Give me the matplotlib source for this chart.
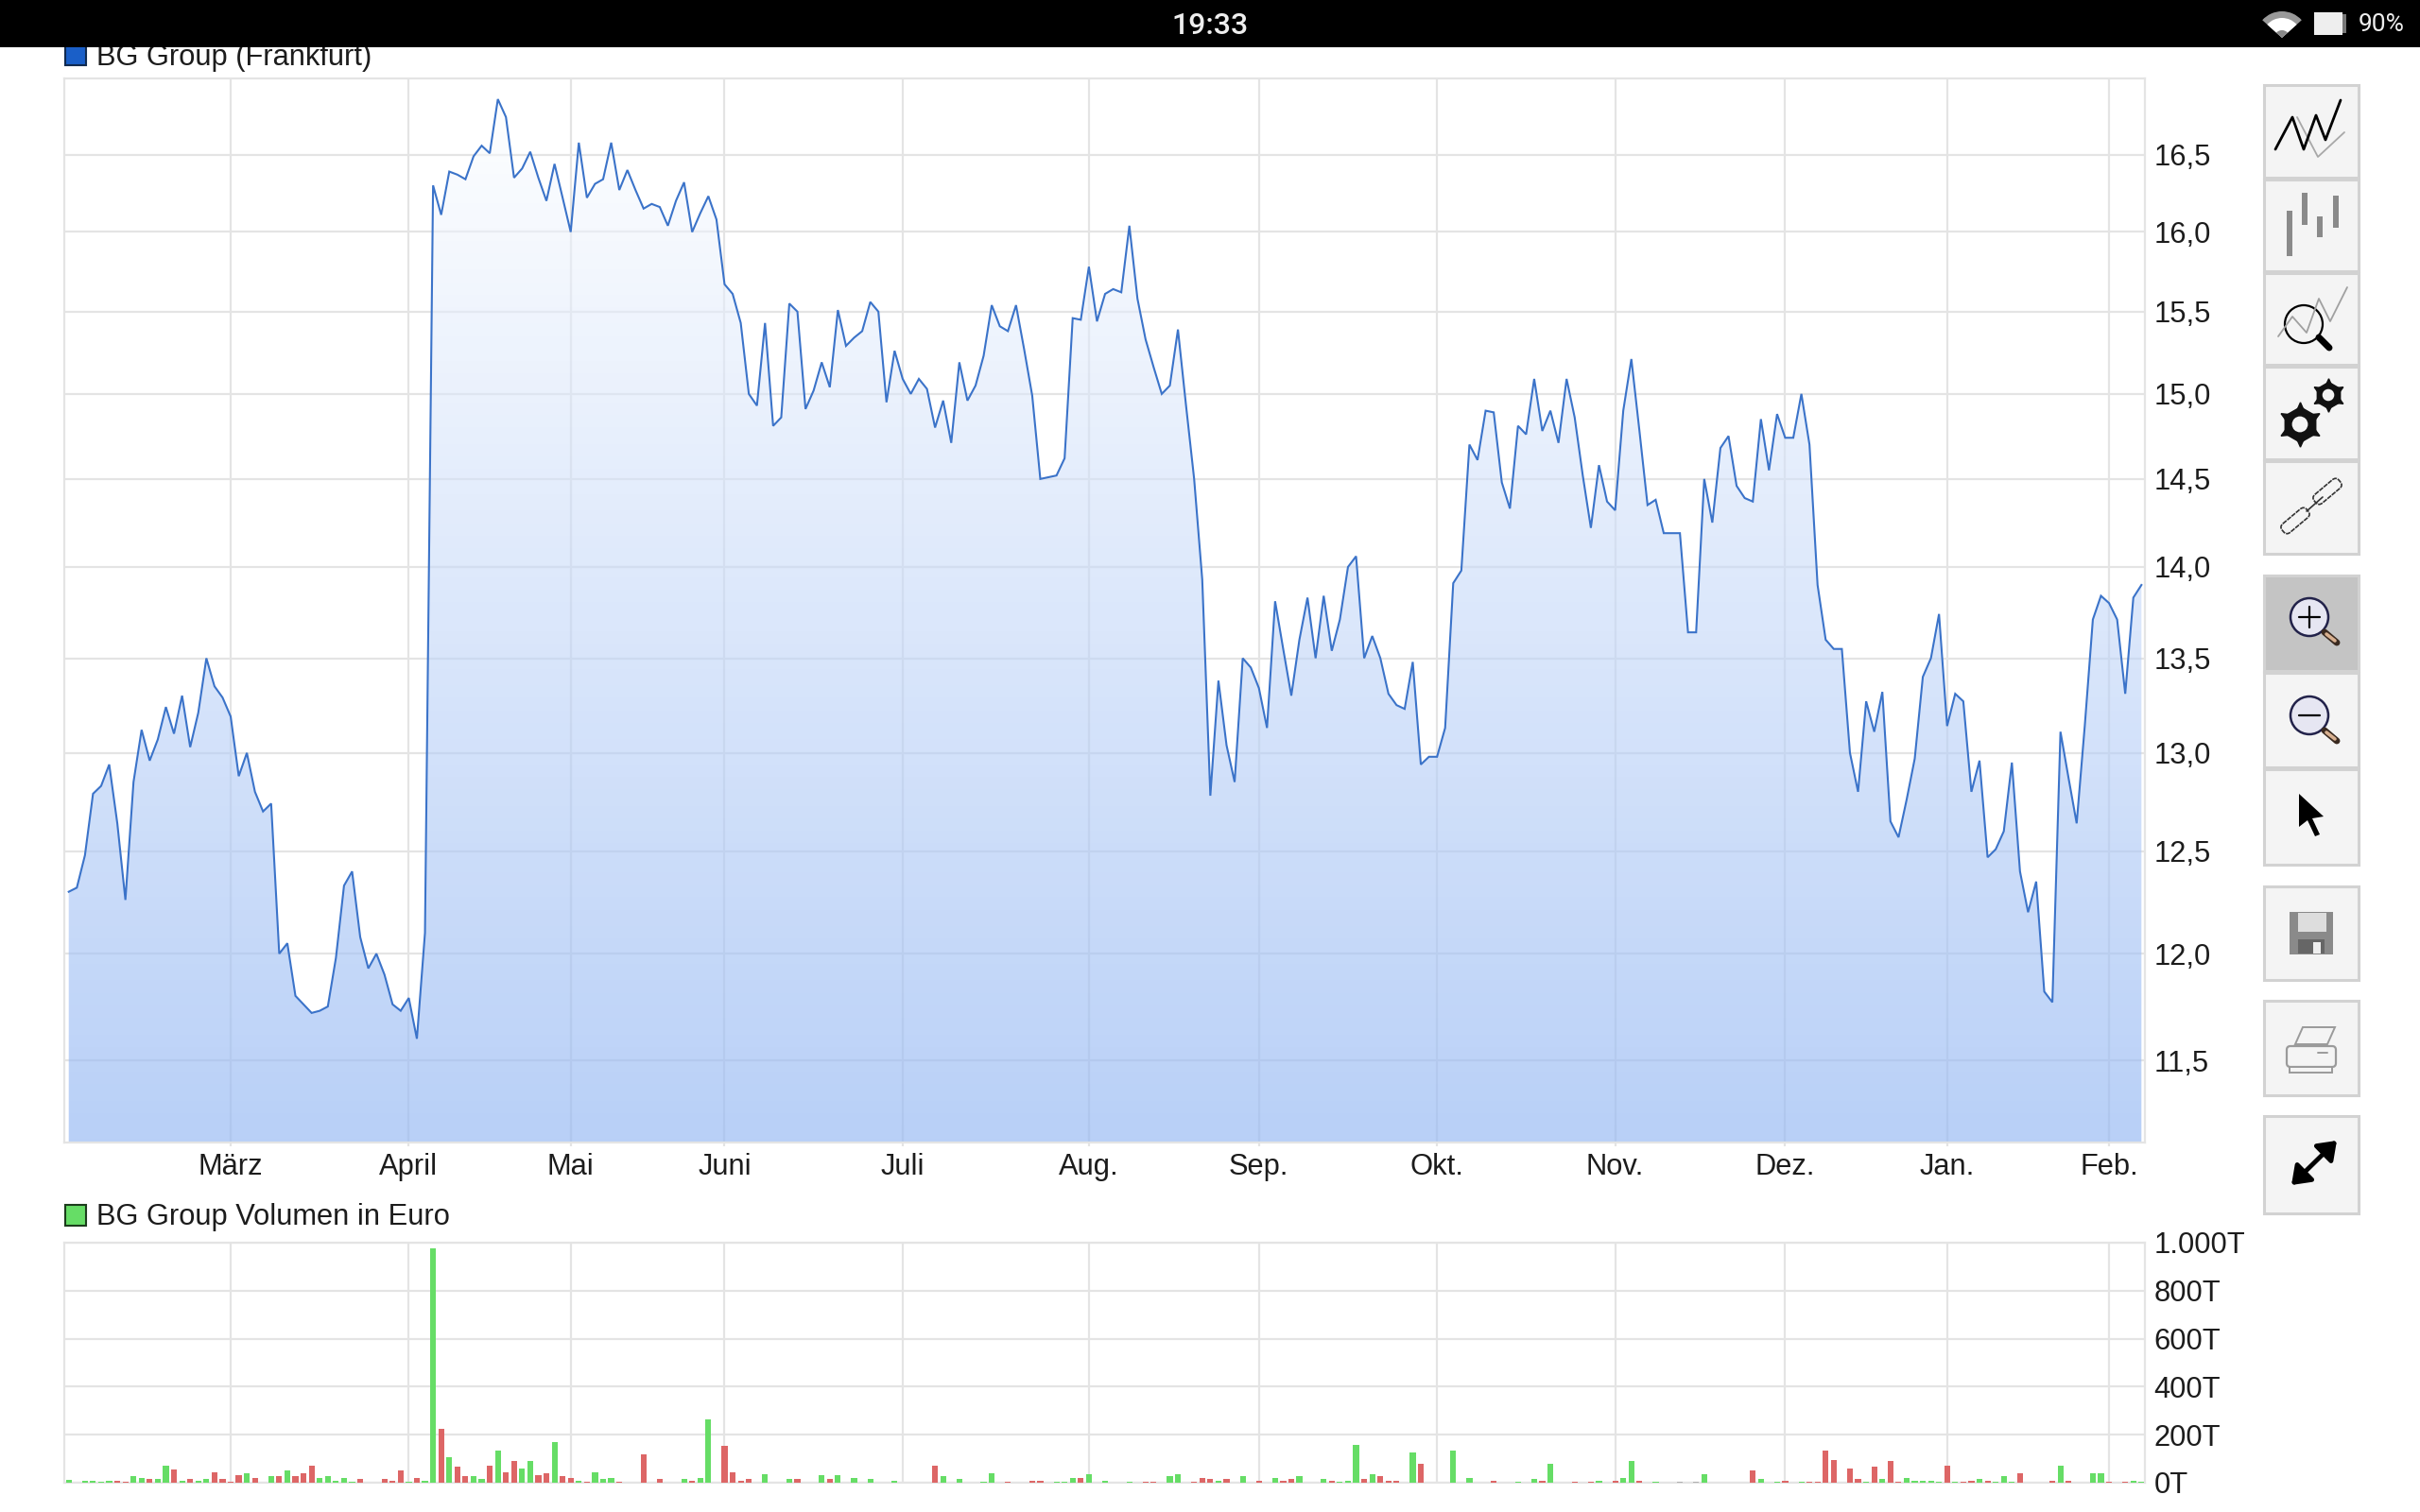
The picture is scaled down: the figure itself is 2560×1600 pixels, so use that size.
import numpy as np
import matplotlib
matplotlib.use('Agg')
import matplotlib.pyplot as plt
from matplotlib.patches import Polygon, Rectangle, Circle, Wedge, FancyBboxPatch
from matplotlib.ticker import NullLocator

plt.rcParams['font.family'] = ['Liberation Sans', 'DejaVu Sans']

# closing prices, one per trading day
price = [12.30, 12.32, 12.48, 12.79, 12.83, 12.94, 12.64, 12.26, 12.85, 13.12,
         12.96, 13.07, 13.24, 13.10, 13.30, 13.03, 13.21, 13.50, 13.35, 13.29,
         13.19, 12.88, 13.00, 12.80, 12.70, 12.74, 12.00, 12.05, 11.80, 11.76,
         11.72, 11.73, 11.75, 11.98, 12.33, 12.40, 12.08, 11.93, 12.00, 11.90,
         11.76, 11.73, 11.79, 11.60, 12.10,
         16.30, 16.11, 16.39, 16.37, 16.34, 16.49, 16.56, 16.51, 16.87, 16.75,
         16.35, 16.41, 16.52, 16.35, 16.20, 16.44, 16.22, 16.00, 16.58, 16.22,
         16.31, 16.34, 16.58, 16.27, 16.40, 16.27, 16.15, 16.18, 16.16, 16.04,
         16.20, 16.32, 16.00, 16.12, 16.23, 16.08, 15.67, 15.61, 15.43, 15.00,
         14.93, 15.43,
         14.81, 14.86, 15.55, 15.50, 14.91, 15.02, 15.19, 15.04, 15.51, 15.29,
         15.34, 15.38, 15.56, 15.50, 14.95, 15.26, 15.09, 15.00, 15.09, 15.03,
         14.80, 14.96, 14.71, 15.19, 14.96, 15.05, 15.23, 15.54, 15.41, 15.38,
         15.54, 15.27, 14.99, 14.50, 14.51, 14.52, 14.62, 15.46, 15.45, 15.78,
         15.44, 15.61, 15.64, 15.62,
         16.04, 15.58, 15.33, 15.16, 15.00, 15.05, 15.39, 14.93, 14.50, 13.93,
         12.78, 13.38, 13.04, 12.85, 13.50, 13.45, 13.34, 13.13, 13.81, 13.55,
         13.30, 13.60, 13.83, 13.50, 13.84, 13.54, 13.71, 14.00, 14.06, 13.50,
         13.62, 13.50, 13.31, 13.25, 13.23, 13.48, 12.94, 12.98, 12.98, 13.13,
         13.91, 13.98,
         14.70, 14.61, 14.90, 14.89, 14.48, 14.33, 14.81, 14.76, 15.09, 14.78,
         14.90, 14.71, 15.09, 14.86, 14.52, 14.22, 14.58, 14.37, 14.32, 14.90,
         15.21, 14.78, 14.35, 14.38, 14.19, 14.19, 14.19, 13.64, 13.64, 14.50,
         14.25, 14.68, 14.75, 14.46, 14.39, 14.37, 14.85, 14.55, 14.88, 14.74,
         14.74, 15.00, 14.70, 13.90,
         13.60, 13.55, 13.55, 13.00, 12.80, 13.27, 13.11, 13.32, 12.65, 12.57,
         12.76, 12.97, 13.40, 13.50, 13.74, 13.14, 13.31, 13.27, 12.80, 12.96,
         12.47, 12.51, 12.60, 12.95, 12.40, 12.20, 12.35, 11.82, 11.77, 13.11,
         12.87, 12.64, 13.14, 13.71, 13.84, 13.80, 13.71, 13.31, 13.83, 13.90]

# volume in thousand euro, split by day direction
up_idx = [0, 2, 3, 4, 5, 8, 9, 11, 12, 14, 16, 17, 22, 25, 27, 31, 32, 33, 34, 35,
          42, 44, 45, 47, 50, 51, 53, 56, 57, 60, 63, 65, 66, 67, 76, 78, 79, 86, 89,
          93, 95, 97, 99, 102, 108, 110, 113, 114, 122, 123, 124, 126, 128, 131, 136,
          137, 142, 145, 149, 152, 155, 157, 158, 159, 161, 166, 171, 173, 179, 181,
          183, 189, 192, 193, 196, 202, 209, 211, 214, 222, 224, 227, 228, 229, 230,
          231, 233, 236, 238, 239, 240, 246, 250, 251, 255, 256]
up_vol = [13, 8, 8, 3, 7, 27, 20, 14, 70, 8, 8, 14, 39, 27, 52, 20, 27, 8, 20, 3,
          3, 8, 975, 108, 27, 14, 133, 58, 90, 170, 8, 45, 14, 20, 14, 20, 264, 34, 14,
          32, 32, 20, 14, 8, 27, 14, 3, 39, 3, 3, 20, 34, 8, 3, 27,
          34, 8, 27, 20, 27, 14, 3, 8, 158, 34, 127, 133, 20, 3, 14,
          77, 8, 20, 90, 3, 34, 14, 3, 3, 3, 14, 20, 8, 8, 8,
          3, 3, 14, 3, 27, 3, 70, 39, 39, 8, 3]
down_idx = [6, 7, 10, 13, 15, 18, 19, 20, 21, 23, 26, 28, 29, 30, 36, 39, 40, 41, 43,
            46, 48, 49, 52, 54, 55, 58, 59, 61, 62, 64, 68, 71, 73, 77, 81, 82, 83, 84,
            90, 94, 107, 116, 119, 120, 125, 133, 134, 139, 140, 141, 143, 147, 150, 151,
            156, 160, 162, 163, 164, 167, 176, 182, 186, 188, 191, 194, 208, 212, 215,
            216, 217, 218, 220, 221, 223, 225, 226, 232, 234, 235, 237, 241, 245, 247,
            252, 254]
down_vol = [8, 3, 14, 57, 14, 45, 14, 3, 32, 20, 27, 27, 39, 70, 14, 14, 8, 52, 20,
            226, 65, 27, 70, 45, 90, 32, 39, 27, 20, 3, 3, 120, 14, 8, 152, 45, 8, 14,
            14, 14, 70, 3, 8, 8, 20, 3, 3, 3, 20, 14, 14, 8, 8, 14,
            8, 14, 27, 8, 8, 77, 8, 8, 3, 3, 8, 8, 52, 8, 3,
            3, 133, 96, 58, 14, 65, 90, 3, 70, 3, 8, 8, 39, 8, 8,
            3, 3]
flat_idx = [199, 201]
flat_vol = [2, 2]

# first trading day of each month, as index into price
month_pos = [20, 42, 62, 81, 103, 126, 147, 169, 191, 212, 232, 252]
month_labels = ['März', 'April', 'Mai', 'Juni', 'Juli', 'Aug.', 'Sep.', 'Okt.', 'Nov.', 'Dez.', 'Jan.', 'Feb.']
price_ticks = [11.5, 12.0, 12.5, 13.0, 13.5, 14.0, 14.5, 15.0, 15.5, 16.0, 16.5]
price_labels = ['11,5', '12,0', '12,5', '13,0', '13,5', '14,0', '14,5', '15,0', '15,5', '16,0', '16,5']
vol_ticks = [0, 200, 400, 600, 800, 1000]
vol_labels = ['0T', '200T', '400T', '600T', '800T', '1.000T']

W, H = 2560, 1600
GRID = '#e4e4e4'
TXT = '#1c1c1c'
FS = 22.2

fig = plt.figure(figsize=(W / 100, H / 100), dpi=100, facecolor='white')


def px_axes(left, top, right, bottom):
    return fig.add_axes([left / W, 1 - bottom / H, (right - left) / W, (bottom - top) / H])


def style(ax):
    for s in ax.spines.values():
        s.set_color(GRID)
        s.set_linewidth(1.6)
    ax.set_axisbelow(True)
    ax.grid(True, color=GRID, lw=1.6)
    ax.yaxis.tick_right()
    ax.tick_params(axis='y', length=0, pad=7, labelsize=FS, labelcolor=TXT)
    ax.set_xlim(XMIN, XMAX)


XMIN, XMAX = -0.55, 256.43
x = np.arange(len(price))
y0, y1 = 11.13, 17.01

ax = px_axes(68, 83, 2269, 1209)
ax.set_yscale('log')
style(ax)
ax.set_ylim(y0, y1)
ax.set_yticks(price_ticks, price_labels)
ax.yaxis.set_minor_locator(NullLocator())
ax.set_xticks(month_pos, month_labels)
ax.tick_params(axis='x', length=3, width=1.6, color=GRID, pad=5, labelsize=FS, labelcolor=TXT)

# white to blue gradient under the line, white layer keeps the grid faint inside the fill
grad = np.zeros((256, 1, 4))
grad[..., 0], grad[..., 1], grad[..., 2] = 0x1a / 255, 0x66 / 255, 0xe6 / 255
grad[:, 0, 3] = np.linspace(0, 0.31, 256)
verts = list(zip(x, price)) + [(x[-1], y0), (x[0], y0)]
clip = Polygon(verts, transform=ax.transData, facecolor=(1, 1, 1, 0.55), edgecolor='none', zorder=1.5)
ax.add_patch(clip)
im = ax.imshow(grad, extent=[0, 1, 0, 1], transform=ax.transAxes, aspect='auto', zorder=2)
im.set_clip_path(clip)
ax.set_xlim(XMIN, XMAX)
ax.set_ylim(y0, y1)
ax.plot(x, price, color='#3b73c9', lw=1.5, zorder=3, solid_joinstyle='miter')

vx = px_axes(68, 1315, 2269, 1569)
style(vx)
vx.set_ylim(0, 1000)
vx.set_yticks(vol_ticks, vol_labels)
vx.set_xticks(month_pos)
vx.tick_params(axis='x', length=0, labelbottom=False)
vx.bar(up_idx, up_vol, width=0.72, color='#66dd66', zorder=3)
vx.bar(down_idx, down_vol, width=0.72, color='#dd6666', zorder=3)
vx.bar(flat_idx, flat_vol, width=0.72, color='#b0b0b0', zorder=3)

# overlay in screen pixels for the legends, status bar and toolbar
ov = fig.add_axes([0, 0, 1, 1], facecolor='none')
ov.set_xlim(0, W)
ov.set_ylim(H, 0)
ov.axis('off')

ov.add_patch(Rectangle((69, 46), 22, 23, fc='#1a5fc8', ec='#102a50', lw=1.5))
ov.text(102, 69, 'BG Group (Frankfurt)', fontsize=FS, color=TXT, va='baseline', ha='left')
ov.add_patch(Rectangle((69, 1275), 22, 22, fc='#66dd66', ec='#1c3c1c', lw=1.5))
ov.text(102, 1296, 'BG Group Volumen in Euro', fontsize=FS, color=TXT, va='baseline', ha='left')

# status bar
ov.add_patch(Rectangle((0, 0), W, 50, fc='black', ec='none', zorder=5))
ov.text(1280, 27, '19:33', color='#eeeeee', fontsize=23, ha='center', va='center', zorder=6,
        family='Roboto', weight='medium')
ov.add_patch(Wedge((2414, 40), 28, 222, 318, width=20, fc='#999999', ec='none', zorder=6))
ov.add_patch(Wedge((2414, 40), 21, 222, 318, fc='white', ec='none', zorder=6))
ov.add_patch(Wedge((2414, 40), 8, 222, 318, fc='#888888', ec='none', zorder=6))
ov.add_patch(Rectangle((2448, 13), 30, 24, fc='#eeeeee', ec='none', zorder=6))
ov.add_patch(Rectangle((2478, 15), 4, 20, fc='#777777', ec='none', zorder=6))
ov.text(2519, 26, '90%', color='#eeeeee', fontsize=19, ha='center', va='center', zorder=6, family='Roboto')

# toolbar buttons (top, bottom, fill)
buttons = [(89, 189, '#f4f4f4'), (189, 288, '#f4f4f4'), (288, 387, '#f4f4f4'), (387, 487, '#f4f4f4'),
           (487, 587, '#f4f4f4'), (608, 711, '#c4c4c4'), (711, 813, '#f4f4f4'), (813, 916, '#f4f4f4'),
           (937, 1038, '#f4f4f4'), (1058, 1160, '#f4f4f4'), (1180, 1285, '#f4f4f4')]
for t, b, c in buttons:
    ov.add_patch(Rectangle((2395, t + 1), 100, b - t - 2, fc=c, ec='#d2d2d2', lw=2.2))


def line(xs, ys, c='black', lw=1.5, **kw):
    ov.plot(xs, ys, color=c, lw=lw, solid_capstyle='round', **kw)


# line chart icon
line([2430, 2452, 2480], [124, 166, 140], c='#a8a8a8', lw=1.3)
line([2407, 2425, 2437, 2450, 2460, 2476], [158, 124, 158, 122, 148, 106], lw=2)
# bars icon
for bx, bt, bb in [(2422, 223, 271), (2438, 204, 238), (2454, 229, 251), (2471, 207, 241)]:
    ov.add_patch(Rectangle((bx - 3.3, bt), 6.7, bb - bt, fc='#8a8a8a', ec='none'))
# magnifier over chart
line([2410, 2425, 2440, 2453, 2465, 2483], [356, 335, 352, 316, 340, 304], c='#a0a0a0', lw=1.3)
ov.add_patch(Circle((2437, 343), 20, fc='none', ec='black', lw=1.6))
line([2453, 2464], [357, 368], lw=5)
# gears
for cx, cy, r in [(2433, 449, 20), (2463, 418, 15)]:
    ov.plot([cx], [cy], marker=(6, 0, 0), ms=r * 1.35, color='#111111')
    ov.plot([cx], [cy], marker=(6, 1, 0), ms=r * 1.7, color='#111111')
    ov.add_patch(Circle((cx, cy), r * 0.42, fc='#f4f4f4', ec='none', zorder=4))
# chain link
for cx, cy in [(2428, 551), (2462, 520)]:
    ov.add_patch(FancyBboxPatch((-17, -6), 34, 12, boxstyle='round,pad=0,rounding_size=5', fc='none', ec='#333333',
                                lw=1.2, ls=(0, (3, 0.6)),
                                transform=matplotlib.transforms.Affine2D().rotate_deg(-40).translate(cx, cy) + ov.transData))
line([2440, 2457], [541, 526], c='#333333', lw=1.2)
# zoom in / zoom out
for cy, sign in [(653, '+'), (757, '-')]:
    ov.add_patch(Circle((2443, cy), 20, fc='#e6e6f2', ec='#22224a', lw=1.8))
    line([2432, 2454], [cy, cy], lw=1.6)
    if sign == '+':
        line([2443, 2443], [cy - 11, cy + 11], lw=1.6)
    line([2459, 2472], [cy + 16, cy + 27], c='#3a2a20', lw=5)
    line([2461, 2470], [cy + 18, cy + 25], c='#d8b090', lw=2.6)
# cursor
ov.add_patch(Polygon([(2432, 840), (2432, 875), (2441, 868), (2449, 885), (2454, 883), (2446, 866), (2458, 864)], fc='black', ec='none'))
# floppy
ov.add_patch(Rectangle((2422, 965), 46, 45, fc='#8a8a8a', ec='none'))
ov.add_patch(Rectangle((2431, 966), 30, 20, fc='#dddddd', ec='none'))
ov.add_patch(Rectangle((2431, 994), 28, 15, fc='#666666', ec='none'))
ov.add_patch(Rectangle((2447, 997), 8, 12, fc='#eeeeee', ec='none'))
# printer
ov.add_patch(Polygon([(2428, 1105), (2436, 1087), (2470, 1087), (2462, 1105)], fc='#f4f4f4', ec='#9a9a9a', lw=1.4))
ov.add_patch(FancyBboxPatch((2419, 1107), 52, 22, boxstyle='round,pad=0,rounding_size=4', fc='#f4f4f4', ec='#9a9a9a', lw=1.6))
ov.add_patch(Rectangle((2422, 1129), 45, 6, fc='#f4f4f4', ec='#9a9a9a', lw=1.4))
line([2452, 2462], [1114, 1114], c='#9a9a9a', lw=1.4)
# resize arrow
ov.annotate('', xy=(2472, 1207), xytext=(2424, 1254),
            arrowprops=dict(arrowstyle='<|-|>,head_width=0.8,head_length=1.1', color='black', lw=3.5, shrinkA=0, shrinkB=0))

fig.savefig('out.png', dpi=100)
